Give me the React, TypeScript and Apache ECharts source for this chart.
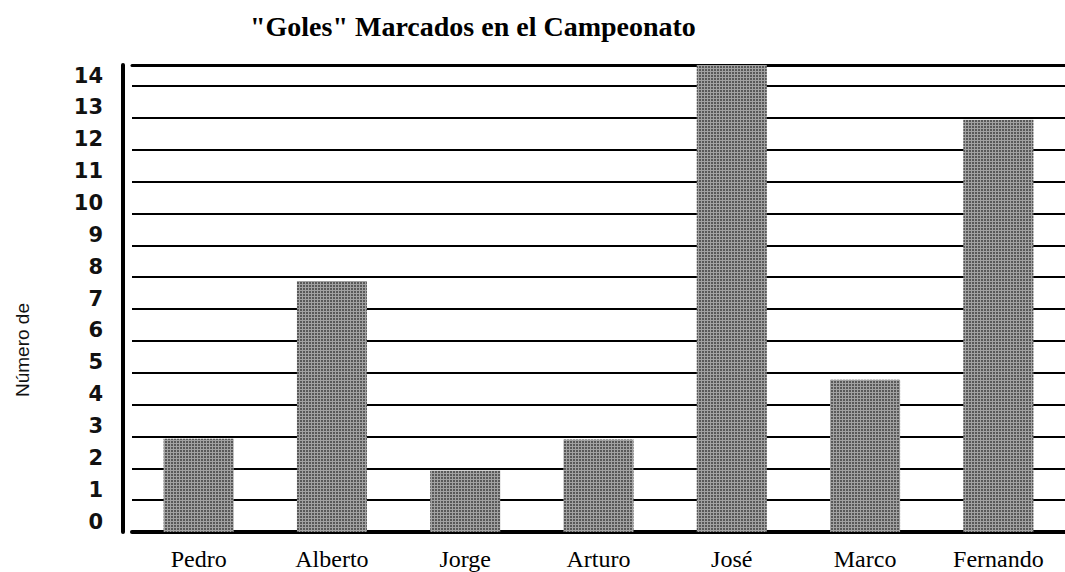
import React, { useEffect, useRef } from "react";
import * as echarts from "echarts";

const TITLE = '"Goles" Marcados en el Campeonato';
const Y_NAME = "Número de";
const players = ["Pedro", "Alberto", "Jorge", "Arturo", "José", "Marco", "Fernando"];
const goals = [2.93, 7.88, 1.93, 2.9, 14.66, 4.78, 12.94];
const Y_MIN = 0;
const Y_MAX = 14.66;
const Y_STEP = 1;

export default function App() {
  const ref = useRef<HTMLDivElement>(null);
  useEffect(() => {
    document.body.style.margin = "0";
    if (!ref.current) return;
    const chart = echarts.init(ref.current, null, { renderer: "svg" });
    chart.setOption({
      animation: false,
      backgroundColor: "#ffffff",
      title: {
        text: TITLE,
        left: 245,
        top: 7,
        textStyle: {
          fontFamily: "Liberation Serif",
          fontWeight: "bold",
          fontSize: 28,
          color: "#000",
        },
      },
      graphic: [
        {
          type: "text",
          x: 22,
          y: 350,
          rotation: Math.PI / 2,
          style: {
            text: Y_NAME,
            font: "19px 'Liberation Sans'",
            fill: "#111",
            textAlign: "center",
            textVerticalAlign: "middle",
          },
        },
      ],
      grid: { left: 132, right: 0, top: 65, bottom: 40 },
      xAxis: [
        {
          type: "category",
          data: players,
          axisLine: { show: true, lineStyle: { color: "#000", width: 4 } },
          axisTick: { show: false },
          axisLabel: {
            margin: 15,
            fontFamily: "Liberation Serif",
            fontSize: 24,
            color: "#000",
          },
        },
        {
          type: "category",
          position: "top",
          data: players,
          axisLine: { show: true, lineStyle: { color: "#000", width: 3 } },
          axisTick: { show: false },
          axisLabel: { show: false },
        },
      ],
      yAxis: {
        type: "value",
        min: Y_MIN,
        max: Y_MAX,
        interval: Y_STEP,
        offset: 9,
        axisLine: { show: true, lineStyle: { color: "#000", width: 4 } },
        axisTick: { show: false },
        splitLine: { show: true, lineStyle: { color: "#000", width: 2 } },
        axisLabel: {
          margin: 20,
          verticalAlign: "bottom",
          fontFamily: "DejaVu Sans",
          fontWeight: "bold",
          fontSize: 21,
          color: "#111",
          formatter: (v: number) => (Number.isInteger(v) ? String(v) : ""),
        },
      },
      series: [
        {
          type: "bar",
          data: goals,
          barWidth: 70,
          itemStyle: {
            color: "#a2a2a2",
            decal: {
              symbol: "rect",
              symbolSize: 1,
              color: "rgba(40,40,40,0.6)",
              dashArrayX: [2, 1],
              dashArrayY: [2, 1],
              rotation: 0,
            },
          },
        },
      ],
    });
    return () => chart.dispose();
  }, []);
  return <div ref={ref} style={{ width: 1065, height: 572 }} />;
}
